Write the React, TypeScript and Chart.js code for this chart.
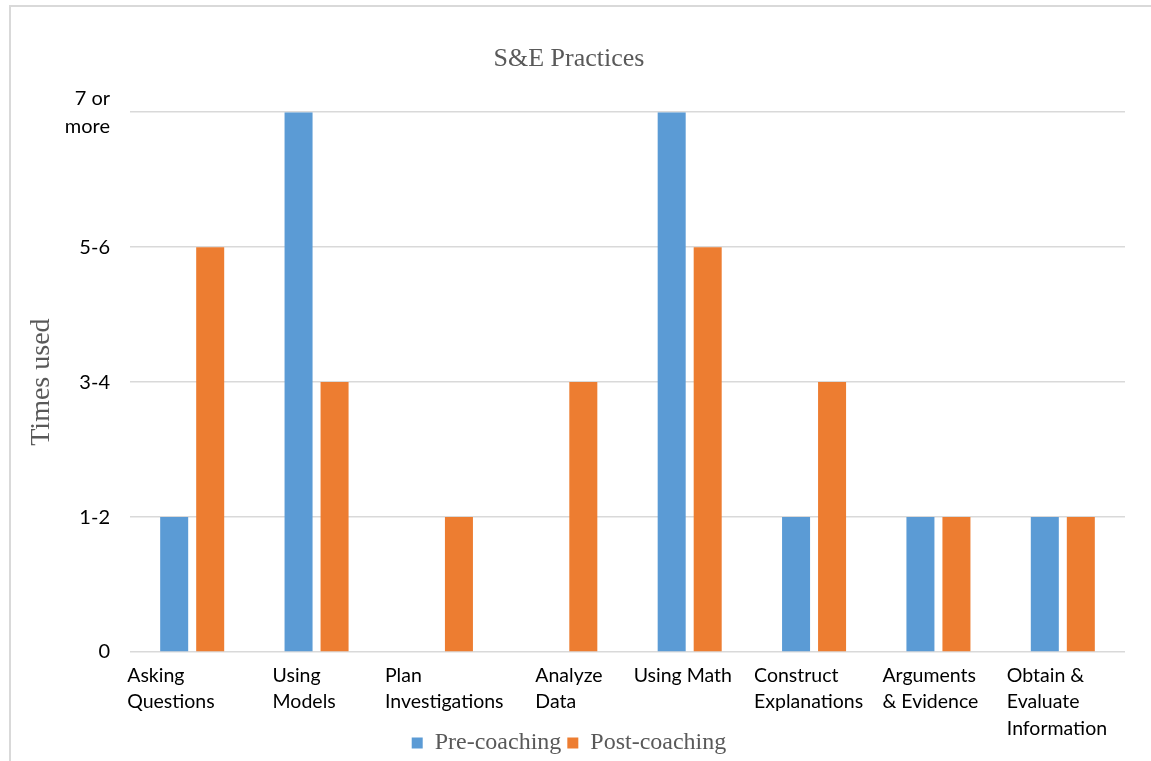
import React, { useEffect, useRef } from 'react';
import { Chart, registerables } from 'chart.js';

Chart.register(...registerables);

const categories: (string | string[])[] = [
  ['Asking', 'Questions'],
  ['Using', 'Models'],
  ['Plan', 'Investigations'],
  ['Analyze', 'Data'],
  ['Using Math'],
  ['Construct', 'Explanations'],
  ['Arguments', '& Evidence'],
  ['Obtain &', 'Evaluate', 'Information'],
];
const preCoaching = [1, 4, 0, 0, 4, 1, 1, 1];
const postCoaching = [3, 2, 1, 2, 3, 2, 1, 1];
const yTickLabels: (string | string[])[] = ['0', '1-2', '3-4', '5-6', ['7 or', 'more']];

const chartTitle = 'S&E Practices';
const yAxisTitle = 'Times used';
const seriesNames = ['Pre-coaching', 'Post-coaching'];

// small horizontal nudges of the category labels (layout only)
const xLabelNudge = [-9, 12, 0, 26, 0, -4, 0, 0];

export default function App() {
  const ref = useRef<HTMLCanvasElement>(null);

  useEffect(() => {
    const serif = "'Liberation Serif', 'Times New Roman', serif";
    const sans = "Lato, 'Open Sans', sans-serif";
    const chart = new Chart(ref.current!, {
      type: 'bar',
      data: {
        labels: categories,
        datasets: [
          {
            label: seriesNames[0],
            data: preCoaching,
            backgroundColor: '#5b9bd5',
            categoryPercentage: 0.579,
            barPercentage: 0.778,
          },
          {
            label: seriesNames[1],
            data: postCoaching,
            backgroundColor: '#ed7d31',
            categoryPercentage: 0.579,
            barPercentage: 0.778,
          },
        ],
      },
      options: {
        animation: false,
        responsive: true,
        maintainAspectRatio: false,
        layout: { padding: { left: 13, right: 26, top: 0, bottom: -4 } },
        plugins: {
          title: {
            display: true,
            text: chartTitle,
            color: '#595959',
            font: { family: serif, size: 26, weight: 'normal' },
            padding: { top: 44, bottom: 37 },
          },
          legend: {
            position: 'bottom',
            labels: {
              color: '#595959',
              font: { family: serif, size: 24 },
              boxWidth: 11,
              boxHeight: 11,
              padding: 6,
            },
          },
          tooltip: { enabled: false },
        },
        scales: {
          x: {
            grid: { display: false, drawTicks: false },
            border: { display: false },
            ticks: {
              color: '#000',
              font: { family: sans, size: 19.5, lineHeight: 1.36 },
              align: 'start',
              labelOffset: -56,
              padding: 10,
              maxRotation: 0,
              minRotation: 0,
              autoSkip: false,
            },
            afterFit: (scale: any) => {
              scale.height = 73;
              scale.paddingLeft = 0;
              scale.paddingRight = 0;
              // let the three-line labels extend past the axis box, as in the original
              scale._computeLabelArea = () => undefined;
              if (!scale.__nudged && typeof scale._computeLabelItems === 'function') {
                const orig = scale._computeLabelItems;
                scale._computeLabelItems = function (ca: any) {
                  const items = orig.call(this, ca);
                  if (Array.isArray(items)) {
                    items.forEach((it: any, i: number) => {
                      const tr = it && it.options && it.options.translation;
                      if (Array.isArray(tr)) tr[0] += xLabelNudge[i] || 0;
                    });
                  }
                  return items;
                };
                scale.__nudged = true;
              }
            },
          },
          y: {
            min: 0,
            max: 4,
            grid: { color: '#d9d9d9', lineWidth: 1.5, drawTicks: false },
            border: { display: false },
            ticks: {
              stepSize: 1,
              color: '#000',
              font: { family: sans, size: 20, lineHeight: 1.4 },
              padding: 20,
              crossAlign: 'near',
              callback: (v: any) => yTickLabels[Number(v)] as any,
            },
            title: {
              display: true,
              text: yAxisTitle,
              color: '#595959',
              font: { family: serif, size: 28, weight: 'normal' },
              padding: { top: 12, bottom: 0 },
            },
            afterFit: (scale: any) => {
              scale.width = 117;
            },
          },
        },
      },
    });
    return () => chart.destroy();
  }, []);

  return (
    <div
      style={{
        position: 'fixed',
        left: 0,
        top: 0,
        width: 1151,
        height: 761,
        overflow: 'hidden',
        background: '#fff',
      }}
    >
      <div
        style={{
          position: 'absolute',
          left: 9,
          top: 5,
          width: 1300,
          height: 900,
          border: '2px solid #d9d9d9',
          boxSizing: 'border-box',
        }}
      />
      <div style={{ position: 'absolute', left: 0, top: 0, width: 1151, height: 761 }}>
        <canvas ref={ref} />
      </div>
    </div>
  );
}
